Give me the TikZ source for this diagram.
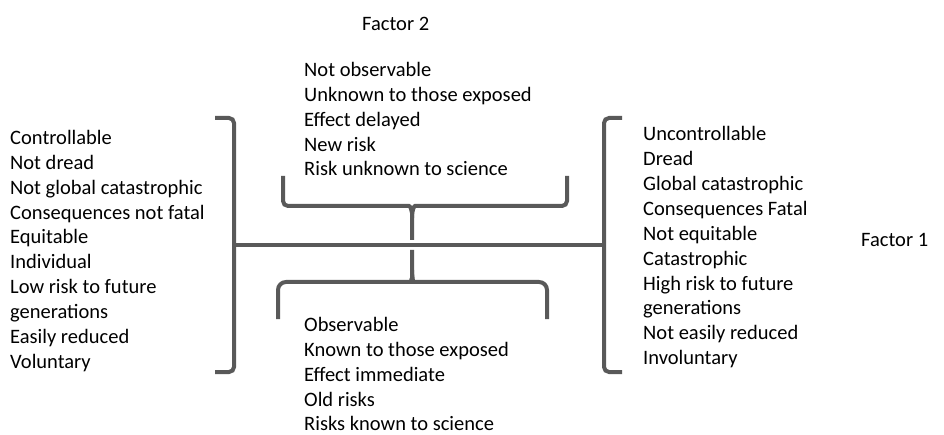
\documentclass[tikz,border=0pt]{standalone}
\usepackage{fontspec}
\setmainfont{Carlito}
\definecolor{bracegray}{HTML}{595959}
\newcommand\linelist[1]{\vtop{\baselineskip=24.85pt\lineskiplimit=-20pt\lineskip=0pt #1}}
\begin{document}
\begin{tikzpicture}[x=1pt,y=-1pt,
  txt/.style={inner sep=0pt, anchor=base west, font=\fontsize{20.5}{24.85}\selectfont, text=black},
  brace/.style={draw=bracegray, line width=4pt, rounded corners=5pt},
  bigbrace/.style={brace, rounded corners=8pt}]
\useasboundingbox (0,0) rectangle (944,435);
\node[txt] (f2) at (362,30.7) {Factor 2};
\node[txt] (f1) at (861,247) {Factor 1};
\node[txt] (left) at (10,144.5) {\linelist{\hbox{Controllable}\hbox{Not dread}\hbox{Not global catastrophic}\hbox{Consequences not fatal}\hbox{Equitable}\hbox{Individual}\hbox{Low risk to future}\hbox{generations}\hbox{Easily reduced}\hbox{Voluntary}}};
\node[txt] (right) at (643,141) {\linelist{\hbox{Uncontrollable}\hbox{Dread}\hbox{Global catastrophic}\hbox{Consequences Fatal}\hbox{Not equitable}\hbox{Catastrophic}\hbox{High risk to future}\hbox{generations}\hbox{Not easily reduced}\hbox{Involuntary}}};
\node[txt] (top) at (304,76.5) {\linelist{\hbox{Not observable}\hbox{Unknown to those exposed}\hbox{Effect delayed}\hbox{New risk}\hbox{Risk unknown to science}}};
\node[txt] (bottom) at (304,331.5) {\linelist{\hbox{Observable}\hbox{Known to those exposed}\hbox{Effect immediate}\hbox{Old risks}\hbox{Risks known to science}}};
% side brackets
\draw[brace] (215,118) -- (234,118) -- (234,372) -- (215,372);
\draw[brace] (622,118) -- (604,118) -- (604,372) -- (622,372);
\coordinate (lmid) at (234,245.5);
\coordinate (rmid) at (604,245.5);
\draw[draw=bracegray, line width=4pt] (lmid) -- (rmid);
% top brace
\draw[brace] (283,176) -- (283,206) -- (404,206) .. controls (410,206) and (412,210) .. (412,218) -- (412,240);
\draw[brace] (412,218) .. controls (412,210) and (414,206) .. (420,206) -- (567,206) -- (567,176);
% bottom brace
\draw[bigbrace] (278,319) -- (278,282) -- (404,282) .. controls (410,282) and (412,278) .. (412,270) -- (412,250);
\draw[bigbrace] (412,270) .. controls (412,278) and (414,282) .. (420,282) -- (547,282) -- (547,319);
\end{tikzpicture}
\end{document}
